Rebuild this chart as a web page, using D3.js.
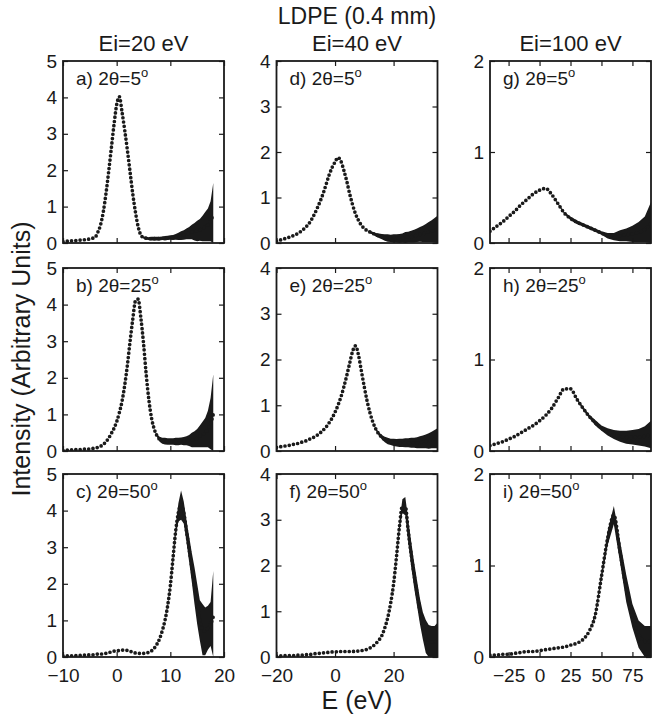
<!DOCTYPE html>
<html lang="en">
<head>
<meta charset="UTF-8">
<title>LDPE (0.4 mm)</title>
<script src="https://d3js.org/d3.v7.min.js"></script>
<style>
  body { margin: 0; background: #fff; }
  svg text { font-family: "Liberation Sans", Arial, Helvetica, sans-serif; fill: #1a1a1a; }
</style>
</head>
<body>
<div id="chart"></div>
<script>

// energy grids (eV) for the three incident energies
const E20 = [-10,-9.5,-9,-8.5,-8,-7.5,-7,-6.5,-6,-5.5,-5,-4.5,-4,-3.5,-3,-2.5,-2,-1.5,-1,-0.5,
  0,0.5,1,1.5,2,2.5,3,3.5,4,4.5,5,5.5,6,6.5,7,7.5,8,8.5,9,9.5,10,10.5,11,11.5,12,12.5,13,13.5,
  14,14.5,15,15.5,16,16.5,17,17.5,18];
const E40 = [-20,-19,-18,-17,-16,-15,-14,-13,-12,-11,-10,-9,-8,-7,-6,-5,-4,-3,-2,-1,
  0,1,2,3,4,5,6,7,8,9,10,11,12,13,14,15,16,17,18,19,20,21,22,23,24,25,26,27,28,29,30,31,32,33,34,35];
const E100 = [-40,-35,-30,-25,-20,-15,-10,-5,0,5,10,15,20,25,30,35,40,45,50,55,60,65,70,75,80,85,90];

// intensity (I) and half-spread of the noisy scatter (W)
const I_a = [.04,.05,.05,.06,.06,.07,.08,.08,.09,.10,.11,.13,.16,.30,.50,.85,1.35,1.95,2.6,3.25,
  3.8,4.02,3.6,3.1,2.55,1.95,1.35,.85,.45,.22,.15,.13,.12,.12,.12,.12,.12,.13,.13,.14,.15,.15,.17,.18,
  .20,.22,.25,.27,.30,.31,.33,.36,.40,.45,.50,.60,.80];
const W_a = [0,0,0,0,0,0,0,0,0,0,0,0,0,0,0,0,0,0,0,0,
  0,0,0,0,0,0,0,0,0,0,.03,.04,.04,.05,.05,.05,.05,.05,.06,.06,.06,.07,.08,.10,
  .12,.13,.15,.17,.20,.24,.28,.30,.35,.40,.45,.55,.85];

const I_b = [.02,.02,.03,.03,.03,.04,.04,.04,.05,.05,.06,.07,.08,.10,.13,.18,.25,.35,.48,.62,
  .80,1.05,1.36,1.8,2.35,3.0,3.6,4.1,4.15,3.65,2.95,2.1,1.4,.90,.60,.42,.32,.28,.27,.26,.26,.26,.26,.26,
  .27,.27,.28,.29,.30,.32,.35,.40,.45,.50,.60,.75,1.0];
const W_b = [0,0,0,0,0,0,0,0,0,0,0,0,0,0,0,0,0,0,0,0,
  0,0,0,0,0,0,0,0,0,0,0,0,0,0,0,.04,.07,.08,.09,.09,.09,.09,.10,.10,
  .10,.11,.12,.15,.20,.22,.25,.30,.35,.40,.50,.70,1.1];

const I_c = [.03,.03,.03,.03,.04,.04,.04,.05,.05,.05,.06,.06,.07,.08,.08,.09,.10,.12,.14,.16,
  .17,.18,.19,.19,.18,.16,.13,.11,.10,.10,.10,.11,.13,.17,.24,.35,.50,.72,1.0,1.4,1.95,2.7,3.45,3.95,
  4.15,3.95,3.45,2.95,2.45,1.95,1.45,1.0,.75,.70,.80,.90,1.1];
const W_c = [0,0,0,0,0,0,0,0,0,0,0,0,0,0,0,0,0,0,0,0,
  0,0,0,0,0,0,0,0,0,0,0,0,0,0,0,0,0,0,0,.04,.05,.10,.15,.25,
  .40,.30,.30,.35,.40,.50,.55,.55,.70,.65,.60,.60,1.25];

const I_d = [.04,.06,.08,.10,.12,.14,.17,.20,.24,.29,.35,.42,.52,.64,.78,.93,1.1,1.3,1.5,1.66,
  1.78,1.88,1.8,1.6,1.36,1.08,.84,.64,.50,.39,.32,.27,.24,.21,.18,.16,.14,.12,.11,.10,
  .10,.10,.10,.11,.12,.13,.14,.15,.17,.19,.20,.22,.24,.26,.28,.30];
const W_d = [0,0,0,0,0,0,0,0,0,0,0,0,0,0,0,0,0,0,0,0,
  0,0,0,0,0,0,0,0,0,0,0,0,.03,.03,.04,.05,.06,.07,.08,.08,
  .09,.09,.10,.10,.12,.12,.13,.14,.15,.16,.18,.20,.22,.24,.27,.30];

const I_e = [.08,.09,.10,.11,.12,.13,.15,.16,.18,.20,.22,.25,.28,.31,.35,.40,.46,.53,.62,.72,
  .85,1.0,1.18,1.4,1.65,1.92,2.18,2.3,2.1,1.75,1.4,1.08,.82,.62,.47,.37,.30,.25,.22,.20,
  .19,.18,.18,.18,.18,.18,.18,.18,.18,.19,.20,.21,.22,.24,.26,.28];
const W_e = [0,0,0,0,0,0,0,0,0,0,0,0,0,0,0,0,0,0,0,0,
  0,0,0,0,0,0,0,0,0,0,0,0,0,0,.03,.04,.05,.06,.07,.07,
  .08,.08,.09,.09,.10,.10,.11,.11,.12,.13,.14,.15,.17,.18,.20,.22];

const I_f = [.02,.02,.03,.03,.03,.03,.03,.04,.04,.04,.05,.05,.06,.07,.08,.08,.09,.10,.10,.11,
  .11,.12,.12,.12,.12,.12,.12,.13,.13,.14,.15,.17,.20,.24,.30,.37,.47,.64,.86,1.18,
  1.6,2.2,2.85,3.3,3.3,2.75,2.25,1.8,1.4,1.0,.68,.45,.35,.33,.33,.35];
const W_f = [0,0,0,0,0,0,0,0,0,0,0,0,0,0,0,0,0,0,0,0,
  0,0,0,0,0,0,0,0,0,0,0,0,0,0,0,0,0,0,0,0,
  0,.06,.10,.15,.20,.25,.28,.28,.28,.28,.30,.36,.35,.35,.35,.40];

const I_g = [.13,.18,.23,.29,.35,.42,.48,.54,.58,.60,.53,.43,.33,.27,.23,.20,.17,.14,.11,.08,.07,.08,.09,.10,.12,.15,.22];
const W_g = [0,0,0,0,0,0,0,0,0,0,0,.01,.01,.02,.02,.02,.02,.02,.02,.03,.04,.06,.07,.09,.11,.14,.23];

const I_h = [.06,.08,.10,.13,.16,.20,.24,.28,.33,.39,.47,.58,.68,.68,.57,.47,.38,.31,.25,.21,.18,.16,.15,.15,.15,.16,.18];
const W_h = [0,0,0,0,0,0,0,0,0,0,0,0,0,0,.01,.02,.02,.03,.03,.04,.05,.06,.07,.08,.09,.11,.15];

const I_i = [.02,.02,.03,.03,.04,.05,.06,.06,.07,.08,.09,.10,.11,.13,.15,.19,.28,.46,.88,1.3,1.55,1.15,.75,.45,.25,.17,.17];
const W_i = [0,0,0,0,0,0,0,0,0,0,0,0,0,0,0,0,0,.02,.04,.08,.10,.12,.15,.13,.15,.17,.17];

// column set-up
const colHeads = ["Ei=20 eV", "Ei=40 eV", "Ei=100 eV"];
const xDomains = [[-10, 20], [-20, 35], [-40, 90]];
const xTicks = [[-10, 0, 10, 20], [-20, 0, 20], [-25, 0, 25, 50, 75]];
const yDomains = [[0, 5], [0, 4], [0, 2]];
const yTicks = [[0, 1, 2, 3, 4, 5], [0, 1, 2, 3, 4], [0, 1, 2]];
const grids = [E20, E40, E100];

// panels in column order
const panelTags = ["a", "b", "c", "d", "e", "f", "g", "h", "i"];
const angles = ["5", "25", "50"];
const seriesI = [I_a, I_b, I_c, I_d, I_e, I_f, I_g, I_h, I_i];
const seriesW = [W_a, W_b, W_c, W_d, W_e, W_f, W_g, W_h, W_i];

const width = 663, height = 717;
const colX = [63, 276.5, 490], colW = 161;
const rowY = [61, 268, 474], rowH = [182, 183, 183];
const ink = "#1a1a1a";

const svg = d3.select("#chart").append("svg")
  .attr("width", width)
  .attr("height", height);

svg.append("text")
  .attr("x", 357).attr("y", 24)
  .attr("text-anchor", "middle")
  .style("font-size", "23px")
  .text("LDPE (0.4 mm)");

colHeads.forEach((h, c) => {
  svg.append("text")
    .attr("x", colX[c] + colW / 2).attr("y", 51)
    .attr("text-anchor", "middle")
    .style("font-size", "22px")
    .text(h);
});

svg.append("text")
  .attr("transform", `translate(30,${(rowY[0] + rowY[2] + rowH[2]) / 2}) rotate(-90)`)
  .attr("text-anchor", "middle")
  .style("font-size", "25px")
  .text("Intensity (Arbitrary Units)");

svg.append("text")
  .attr("x", colX[1] + colW / 2).attr("y", 709)
  .attr("text-anchor", "middle")
  .style("font-size", "25px")
  .text("E (eV)");

for (let c = 0; c < 3; c++) {
  for (let r = 0; r < 3; r++) {
    const k = c * 3 + r;
    const h = rowH[r];
    const x = d3.scaleLinear().domain(xDomains[c]).range([0, colW]);
    const y = d3.scaleLinear().domain(yDomains[c]).range([h, 0]);
    const g = svg.append("g").attr("transform", `translate(${colX[c]},${rowY[r]})`);

    g.append("clipPath").attr("id", "clip" + k)
      .append("rect").attr("width", colW).attr("height", h);

    const pts = grids[c].map((e, j) => ({ e: e, v: seriesI[k][j], w: seriesW[k][j] }));
    const plot = g.append("g").attr("clip-path", `url(#clip${k})`);

    // noisy scatter band
    plot.append("path")
      .datum(pts)
      .attr("fill", ink)
      .attr("d", d3.area()
        .x(d => x(d.e))
        .y0(d => y(Math.max(0, d.v - d.w)))
        .y1(d => y(d.v + d.w)));

    // dotted data markers
    plot.append("path")
      .datum(pts)
      .attr("fill", "none")
      .attr("stroke", ink)
      .attr("stroke-width", 3.7)
      .attr("stroke-linecap", "round")
      .attr("stroke-dasharray", "0 4.3")
      .attr("d", d3.line().curve(d3.curveMonotoneX).x(d => x(d.e)).y(d => y(d.v)));

    // axes, ticks pointing inward on all four sides
    const bottom = d3.axisBottom(x).tickValues(xTicks[c]).tickSize(-5).tickPadding(12)
      .tickFormat(r === 2 ? d3.format("d") : "");
    const top = d3.axisTop(x).tickValues(xTicks[c]).tickSize(-5).tickFormat("");
    const left = d3.axisLeft(y).tickValues(yTicks[c]).tickSize(-5).tickPadding(6).tickFormat(d3.format("d"));
    const right = d3.axisRight(y).tickValues(yTicks[c]).tickSize(-5).tickFormat("");

    [[bottom, `translate(0,${h})`], [top, null], [left, null], [right, `translate(${colW},0)`]]
      .forEach(([ax, tr]) => {
        const a = g.append("g").call(ax);
        if (tr) a.attr("transform", tr);
        a.select(".domain").remove();
        a.selectAll("line").attr("stroke", ink).attr("stroke-width", 1.2);
        a.selectAll("text").style("font-size", "19px").style("font-family", "Liberation Sans, Arial, sans-serif").attr("fill", ink);
      });

    g.append("rect")
      .attr("width", colW).attr("height", h)
      .attr("fill", "none").attr("stroke", ink).attr("stroke-width", 1.8);

    const lab = g.append("text")
      .attr("x", 13).attr("y", 24)
      .style("font-size", "19px");
    lab.append("tspan").text(`${panelTags[k]}) 2θ=${angles[r]}`);
    lab.append("tspan").attr("dy", -8).style("font-size", "13px").text("o");
  }
}

</script>
</body>
</html>
